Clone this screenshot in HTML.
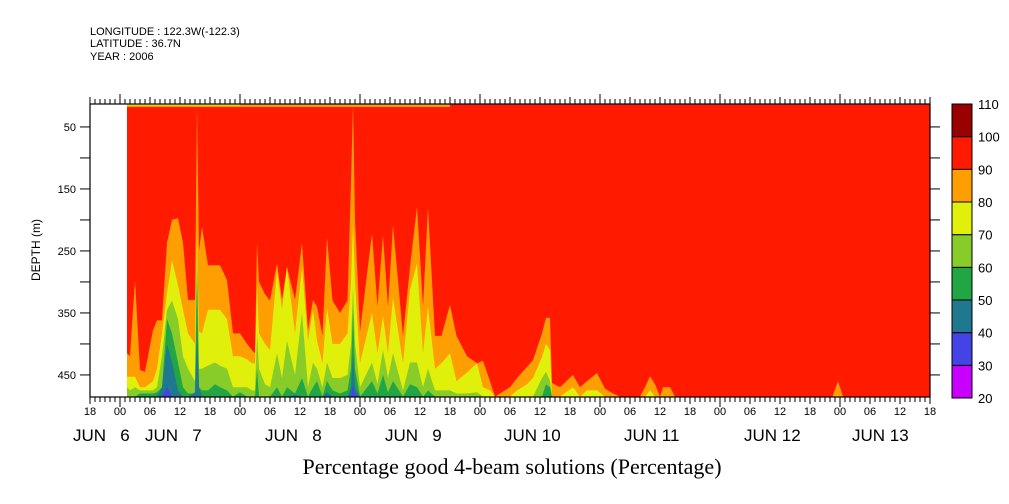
<!DOCTYPE html>
<html><head><meta charset="utf-8"><style>
body{margin:0;background:#fff;width:1009px;height:504px;overflow:hidden}
svg{display:block}
text{font-family:"Liberation Sans",sans-serif;fill:#000}
</style></head><body>
<svg id="chart" width="1009" height="504" viewBox="0 0 1009 504" xmlns="http://www.w3.org/2000/svg">
<g font-size="11">
<text x="90" y="35">LONGITUDE : 122.3W(-122.3)</text>
<text x="90" y="47">LATITUDE : 36.7N</text>
<text x="90" y="60">YEAR : 2006</text>
</g>
<defs><clipPath id="pc"><rect x="90" y="104" width="840" height="293"/></clipPath></defs>
<g id="plot" clip-path="url(#pc)"></g>
<rect x="90" y="104" width="840" height="293" fill="none" stroke="#000" stroke-width="1.2"/>
<g id="axes"></g>
<g id="cbar"></g>
<text x="40" y="250" font-size="12" text-anchor="middle" transform="rotate(-90 40 250)">DEPTH (m)</text>
<text x="512" y="474" font-size="22" text-anchor="middle" style="font-family:'Liberation Serif',serif">Percentage good 4-beam solutions (Percentage)</text>
</svg>
<script>
// hours since Jun 5 18:00
const hours=[7.4,8,9,10,11,12.6,13.4,14.4,15.4,16.4,17.6,18.6,19.6,21.0,21.4,21.8,22.4,23.6,25,26,27.4,28.6,30,31.4,32.4,33.0,33.4,33.8,35,36,37.4,38.4,39.4,41,42.4,43.6,44.6,45.4,46.5,47.4,48.5,50,51.5,52.2,52.6,53,54,56.4,57.5,58.6,59.6,60.6,62.6,64,65.4,66.6,67.6,69,70.3,72,73.3,75.4,77.4,78.6,80,81,84,85.4,87.4,88.6,90.4,91.2,92,92.4,94,96.6,98,99.4,101.4,103,104.6,106,110,111,112,113,114,114.6,116,117,148.5,149.6,150.6,169];
// depth (m) where value first drops below each level
const below90=[415,420,297,442,445,378,362,362,237,200,197,237,329,329,13,250,211,273,273,273,297,383,383,400,410,415,237,300,320,330,270,329,276,329,237,378,329,340,387,228,330,350,330,140,13,200,380,222,340,225,340,208,387,276,179,340,180,387,387,337,387,420,431,427,460,485,470,455,437,426,383,358,358,463,470,450,470,460,447,472,480,485,485,470,452,465,485,470,470,485,485,460,485,485];
const below80=[453,453,453,470,470,460,440,383,318,265,305,345,383,400,216,380,383,345,345,345,360,420,420,425,431,431,305,383,400,410,281,345,276,383,276,395,345,395,431,342,400,400,383,300,205,300,431,350,415,355,415,325,431,313,270,415,340,440,431,415,460,446,431,470,475,485,485,475,465,455,421,400,410,485,485,470,485,475,475,485,485,485,485,485,475,485,485,485,485,485,485,485,485,485];
const below70=[470,475,470,475,475,475,470,420,345,330,360,420,440,460,245,440,440,435,430,435,440,470,470,470,475,475,383,440,465,470,415,455,395,450,350,470,430,440,470,430,455,455,450,400,308,400,470,430,465,410,455,415,475,430,430,470,440,475,475,475,480,480,478,485,485,485,485,485,485,485,455,445,460,485,485,485,485,485,485,485,485,485,485,485,485,485,485,485,485,485,485,485,485,485];
const below60=[485,485,485,480,480,480,478,470,360,383,430,470,480,480,280,470,475,475,465,470,475,485,478,485,485,485,440,485,485,485,470,485,470,480,455,485,470,460,485,460,475,480,475,440,345,440,485,460,480,450,478,460,485,465,470,485,475,485,485,485,485,485,485,485,485,485,485,485,485,485,485,465,470,485,485,485,485,485,485,485,485,485,485,485,485,485,485,485,485,485,485,485,485,485];
const below50=[485,485,485,485,485,485,485,470,400,430,475,485,485,478,380,470,485,485,485,485,485,485,485,485,485,485,485,485,485,485,485,485,485,482,485,485,485,485,485,478,485,485,485,470,415,470,485,485,485,485,485,485,485,485,485,485,485,485,485,485,485,485,485,485,485,485,485,485,485,485,485,485,485,485,485,485,485,485,485,485,485,485,485,485,485,485,485,485,485,485,485,485,485,485];
const below40=[485,485,485,485,485,485,485,485,470,485,485,485,485,485,485,485,485,485,485,485,485,485,485,485,485,485,485,485,485,485,485,485,485,485,485,485,485,485,485,485,485,485,485,482,465,482,485,485,485,485,485,485,485,485,485,485,485,485,485,485,485,485,485,485,485,485,485,485,485,485,485,485,485,485,485,485,485,485,485,485,485,485,485,485,485,485,485,485,485,485,485,485,485,485];
const levels=[20,30,40,50,60,70,80,90,100,110];
const colors=['#c800ff','#4444e6','#1e7890','#22a545','#88cc2a','#e0f00a','#ff9e00','#ff1a00','#990000'];
const xTickLabels=['18','00','06','12'];
const dateLabels=['JUN   6','JUN   7','JUN   8','JUN   9','JUN 10','JUN 11','JUN 12','JUN 13'];
const depthTicks=[50,150,250,350,450];

const NS='http://www.w3.org/2000/svg';
const X=h=>90+h*5;
const Y=d=>104+(d-13)*0.62;
function mk(tag,attrs,parent){const e=document.createElementNS(NS,tag);for(const k in attrs)e.setAttribute(k,attrs[k]);parent.appendChild(e);return e;}
const plot=document.getElementById('plot');
const bg=mk('rect',{x:X(hours[0]),y:104,width:930-X(hours[0]),height:293,fill:colors[7]},plot);


const top1=mk('rect',{x:X(hours[0]),y:104,width:X(72)-X(hours[0]),height:3,fill:colors[6]},plot);


const top2=mk('rect',{x:X(hours[0]),y:104,width:X(30)-X(hours[0]),height:1.5,fill:colors[5]},plot);


const series=[below90,below80,below70,below60,below50,below40];
series.forEach((arr,i)=>{
  let pts=[X(hours[0])+','+Y(485)];
  arr.forEach((d,j)=>pts.push(X(hours[j]).toFixed(1)+','+Y(d).toFixed(1)));
  pts.push(X(hours[hours.length-1])+','+Y(485));
  const p=mk('polygon',{points:pts.join(' '),fill:colors[6-i]},plot);
  
  
});
const ax=document.getElementById('axes');
for(let h=0;h<=168;h++){
  const x=X(h);const major=(h%24===6);const six=(h%6===0);
  const len=major?10:(six?7:5);
  mk('line',{x1:x,y1:397,x2:x,y2:397+len,stroke:'#000','stroke-width':1},ax);
  mk('line',{x1:x,y1:104,x2:x,y2:104-len,stroke:'#000','stroke-width':1},ax);
  if(six){const t=mk('text',{x:x,y:415,'font-size':11,'text-anchor':'middle'},ax);t.textContent=xTickLabels[(h/6)%4];
    
    }
}
const dateX=[73,145,265,385,504,624,744,852];
dateLabels.forEach((s,i)=>{const t=mk('text',{x:dateX[i],y:441,'font-size':17},ax);t.style.whiteSpace='pre';t.textContent=s;
  
  });
for(let d=50;d<=450;d+=50){
  const y=Y(d);const major=depthTicks.includes(d);
  mk('line',{x1:80,y1:y,x2:90,y2:y,stroke:'#000'},ax);
  mk('line',{x1:930,y1:y,x2:940,y2:y,stroke:'#000'},ax);
  if(major){const t=mk('text',{x:76,y:y+4,'font-size':11,'text-anchor':'end'},ax);t.textContent=d;
    
    }
}
const cb=document.getElementById('cbar');
const ch=294/9;
colors.forEach((c,i)=>{const r=mk('rect',{x:952,y:104+(8-i)*ch,width:20,height:ch,fill:c,stroke:'#000','stroke-width':1},cb);
  
  });
levels.forEach((v,i)=>{const t=mk('text',{x:978,y:104+(9-i)*ch+5,'font-size':13},cb);t.textContent=v;
  
  });
</script>
</body></html>
